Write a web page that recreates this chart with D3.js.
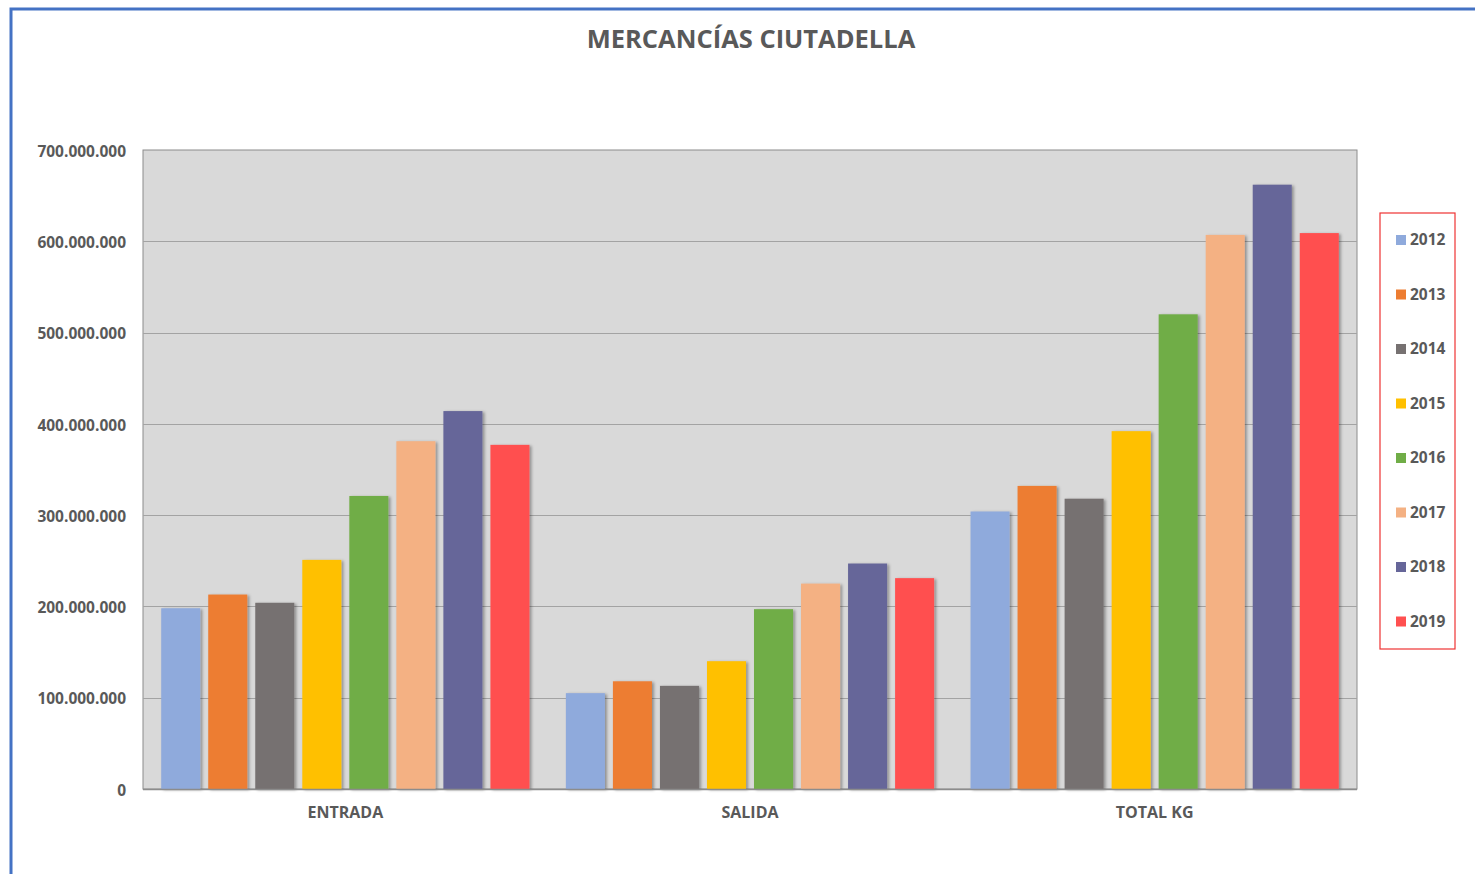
<!DOCTYPE html>
<html>
<head>
<meta charset="utf-8">
<script src="https://cdn.jsdelivr.net/npm/d3@7"></script>
<style>
  body { margin: 0; background: #fff; }
  svg { display: block; font-family: "Open Sans", sans-serif; }
</style>
</head>
<body>
<svg id="chart"></svg>
<script>
// data
const categories = ["ENTRADA", "SALIDA", "TOTAL KG"];
const years = ["2012", "2013", "2014", "2015", "2016", "2017", "2018", "2019"];
const entrada = [198e6, 213e6, 204e6, 251e6, 321e6, 381e6, 414e6, 377e6];
const salida = [105e6, 118e6, 113e6, 140e6, 197e6, 225e6, 247e6, 231e6];
const totalKg = [304e6, 332e6, 318e6, 392e6, 520e6, 607e6, 662e6, 609e6];
const colors = ["#8faadc", "#ed7d31", "#767171", "#ffc000", "#70ad47", "#f4b183", "#666699", "#ff5050"];
const yTicks = [0, 100e6, 200e6, 300e6, 400e6, 500e6, 600e6, 700e6];

const W = 1475, H = 874;
const m = {top: 150, right: 118, bottom: 85, left: 143};
const w = W - m.left - m.right;
const h = H - m.top - m.bottom;

const rows = categories.map((c, i) => ({
  cat: c,
  vals: [entrada, salida, totalKg][i]
}));

const es = d3.formatLocale({decimal: ",", thousands: ".", grouping: [3], currency: ["", "€"]});
const fmt = es.format(",.0f");

const svg = d3.select("#chart").attr("width", W).attr("height", H);

const defs = svg.append("defs");
defs.append("filter").attr("id", "shadow")
  .attr("x", "-20%").attr("y", "-5%").attr("width", "150%").attr("height", "120%")
  .append("feDropShadow")
  .attr("dx", 2).attr("dy", 1).attr("stdDeviation", 1.5)
  .attr("flood-color", "#000").attr("flood-opacity", 0.35);

// outer frame, only top and left edges show
svg.append("path")
  .attr("d", `M11,${H} L11,9 L${W},9`)
  .attr("fill", "none").attr("stroke", "#4472c4").attr("stroke-width", 3);

svg.append("text")
  .attr("x", 751).attr("y", 48)
  .attr("text-anchor", "middle")
  .attr("font-size", 25.5).attr("font-weight", "bold")
  .attr("fill", "#595959")
  .text("MERCANCÍAS CIUTADELLA");

const g = svg.append("g").attr("transform", `translate(${m.left},${m.top})`);

const x0 = d3.scaleBand().domain(categories).range([0, w]).paddingInner(0.09).paddingOuter(0.045);
const x1 = d3.scaleBand().domain(years).range([0, x0.bandwidth()]).paddingInner(0.17);
const y = d3.scaleLinear().domain([0, 700e6]).range([h, 0]);

g.append("rect").attr("width", w).attr("height", h)
  .attr("fill", "#d9d9d9").attr("stroke", "#8c8c8c").attr("stroke-width", 1);

g.append("g").selectAll("line")
  .data(yTicks.slice(1, -1))
  .join("line")
  .attr("x1", 0).attr("x2", w)
  .attr("y1", d => Math.round(y(d)) + 0.5).attr("y2", d => Math.round(y(d)) + 0.5)
  .attr("stroke", "#a3a3a3").attr("stroke-width", 1.2);

const yAxis = g.append("g")
  .call(d3.axisLeft(y).tickValues(yTicks).tickFormat(fmt).tickSize(0).tickPadding(17));
yAxis.select(".domain").remove();
yAxis.selectAll("text")
  .attr("dy", "0.4em")
  .attr("font-size", 15.5).attr("font-weight", "bold")
  .attr("fill", "#595959").attr("font-family", "Open Sans");

const grp = g.selectAll("g.cat")
  .data(rows)
  .join("g").attr("class", "cat")
  .attr("transform", d => `translate(${x0(d.cat)},0)`);

grp.selectAll("rect")
  .data(d => d.vals.map((v, i) => ({year: years[i], v: v, c: colors[i]})))
  .join("rect")
  .attr("x", d => x1(d.year))
  .attr("y", d => y(d.v))
  .attr("width", x1.bandwidth())
  .attr("height", d => h - y(d.v))
  .attr("fill", d => d.c)
  .attr("filter", "url(#shadow)");

g.append("line")
  .attr("x1", 0).attr("x2", w).attr("y1", h + 0.5).attr("y2", h + 0.5)
  .attr("stroke", "#8c8c8c").attr("stroke-width", 1.5);

const xAxis = g.append("g").attr("transform", `translate(0,${h})`)
  .call(d3.axisBottom(x0).tickSize(0).tickPadding(18));
xAxis.select(".domain").remove();
xAxis.selectAll("text")
  .attr("font-size", 16).attr("font-weight", "bold")
  .attr("fill", "#595959").attr("font-family", "Open Sans");

// legend
const leg = svg.append("g").attr("transform", "translate(1380,213)");
leg.append("rect").attr("width", 75).attr("height", 436)
  .attr("fill", "#fff").attr("stroke", "#ee3333").attr("stroke-width", 1.2);
const li = leg.selectAll("g.item")
  .data(years)
  .join("g").attr("class", "item")
  .attr("transform", (d, i) => `translate(16,${27 + i * 54.5})`);
li.append("rect").attr("x", 0).attr("y", -5).attr("width", 10).attr("height", 10)
  .attr("fill", (d, i) => colors[i]);
li.append("text").attr("x", 14).attr("y", 0).attr("dy", "0.35em")
  .attr("font-size", 15.5).attr("font-weight", "bold").attr("fill", "#595959")
  .text(d => d);
</script>
</body>
</html>
